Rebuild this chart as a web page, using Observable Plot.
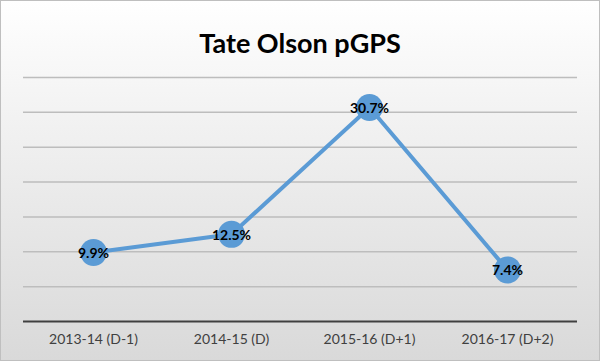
<!DOCTYPE html>
<html>
<head>
<meta charset="utf-8">
<script src="https://cdn.jsdelivr.net/npm/d3@7"></script>
<script src="https://cdn.jsdelivr.net/npm/@observablehq/plot@0.6"></script>
<style>
  html, body { margin: 0; padding: 0; background: #fff; }
  #chart {
    position: relative; width: 600px; height: 361px; overflow: hidden;
    background: linear-gradient(to bottom, #ffffff 0%, #f3f3f3 30%, #d9d9d9 100%);
    outline: 1px solid #bfbfbf; outline-offset: -1px;
    font-family: Lato, "Open Sans", sans-serif;
  }
  #title {
    height: 62px; text-align: center; font-weight: bold; font-size: 27px;
    line-height: 27px; box-sizing: border-box; padding-top: 29px;
    color: #000;
  }
  #chart svg { display: block; background: transparent; }
</style>
</head>
<body>
<div id="chart"><div id="title">Tate Olson pGPS</div></div>
<script>
const seasons = ["2013-14 (D-1)", "2014-15 (D)", "2015-16 (D+1)", "2016-17 (D+2)"];
const pgps = [9.9, 12.5, 30.7, 7.4];
const gridValues = [5, 10, 15, 20, 25, 30, 35];

const data = seasons.map((s, i) => ({season: s, value: pgps[i]}));

const plot = Plot.plot({
  width: 600,
  height: 299,
  marginTop: 15,
  marginBottom: 40,
  marginLeft: 23,
  marginRight: 23,
  style: {background: "transparent", fontFamily: "Lato, 'Open Sans', sans-serif"},
  x: {type: "point", domain: seasons, padding: 0.5, label: null},
  y: {domain: [0, 35], axis: null},
  marks: [
    Plot.ruleY(gridValues, {stroke: "#bdbdbd", strokeWidth: 1.5}),
    Plot.ruleY([0], {stroke: "#404040", strokeWidth: 2}),
    Plot.axisX({tickSize: 0, tickPadding: 13, fontSize: 14, fill: "#404040", label: null}),
    Plot.line(data, {x: "season", y: "value", stroke: "#5b9bd5", strokeWidth: 4}),
    Plot.dot(data, {x: "season", y: "value", r: 13.5, fill: "#5b9bd5", stroke: null}),
    Plot.text(data, {x: "season", y: "value", text: d => `${d.value}%`, fontWeight: "bold", fontSize: 14, fill: "#000", dy: 1})
  ]
});
document.getElementById("chart").appendChild(plot);
</script>
</body>
</html>
